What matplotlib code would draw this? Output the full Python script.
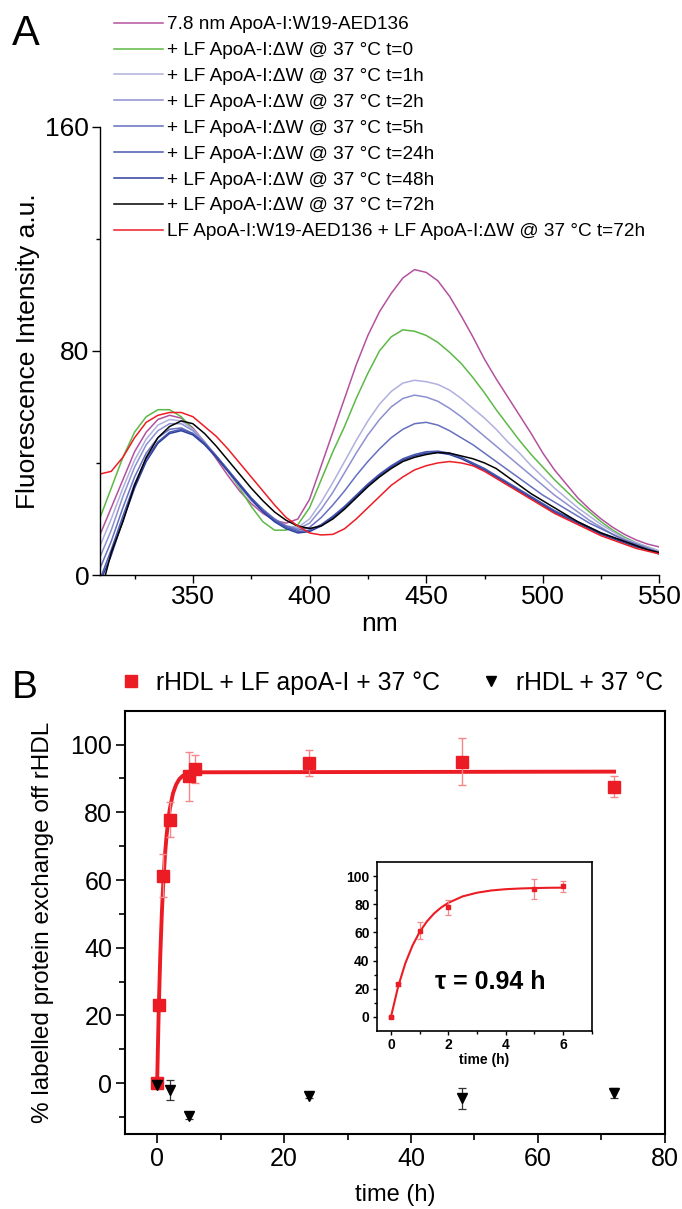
import numpy as np
import matplotlib.pyplot as plt
from matplotlib.lines import Line2D
from matplotlib.ticker import MultipleLocator, FixedLocator

plt.rcParams['font.family'] = ['Liberation Sans', 'DejaVu Sans']

# ---- panel A: emission spectra, read every 5 nm ----
wavelength = list(range(310, 555, 5))

spec_78nm = [14, 24, 34, 44, 51, 55.5, 57, 56, 52.5, 47.5, 41.5, 35.5, 30, 25.5, 22, 19.5, 18.5, 20,
             27, 39, 51, 63, 75, 85.5, 94, 100.5, 106, 109, 108, 105, 99.5, 92.5, 85, 77, 70, 63.5, 57, 50.5,
             43.5, 37.5, 32.5, 27.5, 23.5, 20, 17, 14.5, 12.5, 11, 10]
spec_t0 = [20, 31, 42, 51, 56.5, 59, 59, 56.5, 52, 47, 42, 37, 31, 24.5, 19, 16, 16, 18,
           24, 34, 44, 53, 63, 72, 80, 85, 87.5, 87, 85.5, 83, 79.5, 75.5, 70.5, 65, 59, 53.5, 48, 43,
           38.5, 34, 30, 26, 22.5, 19, 16, 13.5, 11.5, 10, 8.5]
spec_t1 = [10, 20, 31, 41, 48.5, 53.5, 55.5, 55, 52, 47.5, 42.5, 37, 31.5, 26.5, 22.5, 19.5, 17.5, 17,
           20, 26, 33, 40.5, 48, 55, 61, 65.5, 68.5, 69.5, 69, 68, 66, 63, 59.5, 56, 52, 47.5, 43.5, 39,
           35, 31, 27.5, 24, 21, 18, 15.5, 13, 11.5, 10, 8.5]
spec_t2 = [6, 16, 28, 38.5, 46.5, 51.5, 54, 54, 51.5, 47.5, 42.5, 37.5, 32, 27, 23, 20, 17.5, 16.5,
           18.5, 23.5, 29.5, 36.5, 43.5, 50, 55.5, 60, 63, 64.2, 63.5, 62, 59.5, 56.5, 53, 49.5, 46, 42.5, 39, 35.5,
           32, 28.5, 25.5, 22.5, 19.5, 17, 14.5, 12.5, 11, 9.5, 8]
spec_t5 = [2, 12, 24, 35, 43.5, 49, 52, 52.5, 50.5, 47, 42.5, 37.5, 32.5, 27.5, 23.5, 20, 17.5, 16,
           17, 20.5, 25, 30, 35.5, 40.5, 45, 49, 52, 54, 54.5, 53.5, 51.5, 49, 46.5, 43.5, 40.5, 37.5, 34.5, 31.5,
           28.5, 26, 23.5, 21, 18.5, 16.5, 14.5, 12.5, 11, 9.5, 8]
spec_t24 = [-2, 9, 21, 32.5, 41.5, 47.5, 51, 52, 50.5, 47, 42.5, 37.5, 32.5, 27.5, 23, 19.5, 17, 15.5,
            16, 18, 21, 24.5, 28.5, 32.5, 36, 39, 41.5, 43, 44, 44.2, 43.5, 42, 40, 38, 35.5, 33, 30.5, 28,
            25.5, 23, 21, 19, 17, 15, 13.5, 12, 10.5, 9, 7.5]
spec_t48 = [-3, 7, 19.5, 31, 40.5, 47, 50.5, 51.5, 50, 46.5, 42, 37, 32, 27, 22.5, 19, 16.5, 15,
            15.5, 17.5, 20.5, 24, 28, 32, 35.5, 38.5, 41, 42.5, 43.5, 43.7, 43, 41.5, 39.5, 37.5, 35, 32.5, 30, 27.5,
            25, 22.5, 20.5, 18.5, 16.5, 14.5, 13, 11.5, 10, 9, 7.5]
spec_t72 = [-8, 8, 19, 32, 42, 49, 53, 55, 54, 50.5, 46, 41, 36, 31, 26.5, 22.5, 19.5, 17.5,
            16.6, 17.5, 20, 23.5, 27.5, 31.5, 35, 38, 40.5, 42, 43, 43.7, 43.5, 42.5, 41.5, 40, 38, 35, 32, 29,
            26.5, 24, 21.5, 19, 17, 15, 13.5, 12, 10.5, 9, 8]
spec_lf = [36, 37, 42, 49, 54.5, 57, 58, 58, 56.5, 53, 49.5, 45, 40, 35, 30, 25, 20.5, 17.5,
           15, 14.3, 14.5, 16.5, 20, 24, 28, 32, 35, 37.5, 39, 40, 40.5, 40, 39, 37, 34.5, 32, 29.5, 27,
           24.5, 22, 20, 18, 16, 14, 12.5, 11, 9.5, 8.5, 7.5]

spec_labels = [
    "7.8 nm ApoA-I:W19-AED136",
    "+ LF ApoA-I:\u0394W @ 37 \u00b0C t=0",
    "+ LF ApoA-I:\u0394W @ 37 \u00b0C t=1h",
    "+ LF ApoA-I:\u0394W @ 37 \u00b0C t=2h",
    "+ LF ApoA-I:\u0394W @ 37 \u00b0C t=5h",
    "+ LF ApoA-I:\u0394W @ 37 \u00b0C t=24h",
    "+ LF ApoA-I:\u0394W @ 37 \u00b0C t=48h",
    "+ LF ApoA-I:\u0394W @ 37 \u00b0C t=72h",
    "LF ApoA-I:W19-AED136 + LF ApoA-I:\u0394W @ 37 \u00b0C t=72h",
]
spec_colors = ["#b4519f", "#5cb946", "#b0b0de", "#8c90d0", "#6670bf",
               "#4a58b0", "#2f3f9f", "#000000", "#ee1c25"]

# ---- panel B: exchange kinetics ----
time_exch = [0, 0.25, 1, 2, 5, 6, 24, 48, 72]
exch = [0, 23.2, 61.3, 77.8, 90.6, 92.7, 94.5, 94.9, 87.5]
exch_err = [0.5, 1.0, 6.3, 5.2, 7.2, 4.1, 3.8, 6.9, 3.1]

time_ctrl = [0, 2, 5, 24, 48, 72]
ctrl = [-0.5, -2, -9.7, -3.7, -4.5, -2.9]
ctrl_err = [0.5, 2.9, 1.0, 0.6, 3.1, 1.4]

# fitted single exponential
fit_t = [0, 0.25, 0.5, 0.75, 1, 1.25, 1.5, 1.75, 2, 2.5, 3, 3.5, 4, 4.5, 5, 5.5, 6, 72]
fit_y = [0, 21.5, 38, 50.6, 60.3, 67.7, 73.4, 77.7, 81, 85.6, 88.2, 89.8, 90.7, 91.2, 91.5, 91.7, 91.8, 92]

red = "#ec1c24"

fig = plt.figure(figsize=(6.82, 12.09), dpi=100)

# ================= A =================
axA = fig.add_axes([0.146, 0.5244, 0.821, 0.3708])
spectra = [spec_78nm, spec_t0, spec_t1, spec_t2, spec_t5, spec_t24, spec_t48, spec_t72, spec_lf]
handles = []
for vals, col, lab in zip(spectra, spec_colors, spec_labels):
    ln, = axA.plot(wavelength, vals, color=col, lw=1.1, label=lab)
    handles.append(ln)
axA.set_xlim(310, 550)
axA.set_ylim(0, 160)
axA.spines[['top', 'right']].set_visible(False)
for s in ['left', 'bottom']:
    axA.spines[s].set_linewidth(1.0)
axA.set_xticks([350, 400, 450, 500, 550])
axA.xaxis.set_minor_locator(MultipleLocator(25))
axA.set_yticks([0, 80, 160])
axA.yaxis.set_minor_locator(MultipleLocator(40))
axA.tick_params(which='major', length=5.5, width=1, labelsize=19, pad=2)
axA.tick_params(which='minor', length=3, width=1)
axA.set_xlabel("nm", fontsize=19, labelpad=2)
axA.set_ylabel("Fluorescence Intensity a.u.", fontsize=19, labelpad=4)

fig.legend(handles, spec_labels, loc='upper left',
           bbox_to_anchor=(114 / 682, 1 - 16 / 1209), frameon=False,
           fontsize=13.7, handlelength=2.6, handletextpad=0.2,
           labelspacing=0.45, borderpad=0, borderaxespad=0)

fig.text(12 / 682, 1 - 45 / 1209, "A", fontsize=30, va='baseline')

# ================= B =================
axB = fig.add_axes([125.4 / 682, 0.062, 0.791, 0.3502])
axB.plot(fit_t, fit_y, color=red, lw=2.8, zorder=2)
axB.errorbar(time_exch, exch, yerr=exch_err, fmt='none', ecolor='#f4878a',
             elinewidth=1, capsize=3, capthick=1, zorder=3)
axB.plot(time_exch, exch, 's', color=red, ms=8, zorder=4)
axB.errorbar(time_ctrl, ctrl, yerr=ctrl_err, fmt='none', ecolor='#333333',
             elinewidth=0.9, capsize=3, capthick=0.9, zorder=3)
axB.plot(time_ctrl, ctrl, 'v', color='black', ms=7, zorder=5)
axB.set_xlim(-5, 80)
axB.set_ylim(-15, 110)
for s in axB.spines.values():
    s.set_linewidth(1.5)
axB.set_xticks([0, 20, 40, 60, 80])
axB.xaxis.set_minor_locator(FixedLocator([10, 30, 50, 70]))
axB.set_yticks([0, 20, 40, 60, 80, 100])
axB.yaxis.set_minor_locator(FixedLocator([-10, 10, 30, 50, 70, 90]))
axB.tick_params(which='major', length=6.5, width=1.2, labelsize=18, pad=3)
axB.tick_params(which='minor', length=4, width=1.2)
axB.set_xlabel("time (h)", fontsize=17, labelpad=9)
axB.set_ylabel("% labelled protein exchange off rHDL", fontsize=17.5, labelpad=12)

leg_handles = [Line2D([], [], ls='none', marker='s', color=red, ms=8),
               Line2D([], [], ls='none', marker='v', color='black', ms=7)]
fig.legend(leg_handles, ["rHDL + LF apoA-I + 37 \u00b0C", "rHDL + 37 \u00b0C"],
           ncol=2, loc='center left', bbox_to_anchor=(124 / 682, 1 - 683 / 1209),
           frameon=False, fontsize=17.8, handlelength=0.6, handletextpad=0.7,
           columnspacing=1.78, borderpad=0, borderaxespad=0)

fig.text(12 / 682, 1 - 698 / 1209, "B", fontsize=28, va='baseline')

# ---- inset ----
axI = fig.add_axes([0.5522, 0.1472, 0.3154, 0.1398])
axI.plot(fit_t[:-1], fit_y[:-1], color=red, lw=1.5, zorder=2)
axI.errorbar(time_exch[:6], exch[:6], yerr=exch_err[:6], fmt='none', ecolor='#f4878a',
             elinewidth=0.9, capsize=2, capthick=0.9, zorder=3)
axI.plot(time_exch[:6], exch[:6], 's', color=red, ms=3.5, zorder=4)
axI.set_xlim(-0.5, 7)
axI.set_ylim(-10, 110)
for s in axI.spines.values():
    s.set_linewidth(1.2)
axI.set_xticks([0, 2, 4, 6])
axI.xaxis.set_minor_locator(FixedLocator([1, 3, 5, 7]))
axI.set_yticks([0, 20, 40, 60, 80, 100])
axI.yaxis.set_minor_locator(FixedLocator([10, 30, 50, 70, 90]))
axI.tick_params(which='major', length=3, width=1, labelsize=10, pad=2)
axI.tick_params(which='minor', length=2, width=1)
for lbl in axI.get_xticklabels() + axI.get_yticklabels():
    lbl.set_fontweight('bold')
axI.set_xlabel("time (h)", fontsize=10, fontweight='bold', labelpad=1)
axI.text(1.55, 24.5, "\u03c4 = 0.94 h", fontsize=18, fontweight='bold', va='center')

fig.savefig("out.png", dpi=100)
